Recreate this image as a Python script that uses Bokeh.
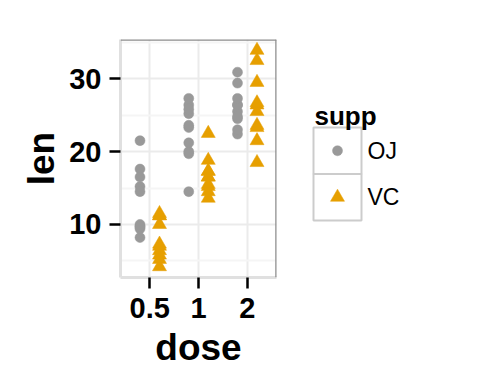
from bokeh.plotting import figure
from bokeh.layouts import row
from bokeh.models import Range1d, FixedTicker, ColumnDataSource, Span
from bokeh.core.properties import value
from bokeh.embed import file_html
from bokeh.resources import INLINE

# ---- data (ToothGrowth) ----
doses = ["0.5", "1", "2"]
supps = ["OJ", "VC"]
oj_05 = [15.2, 21.5, 17.6, 9.7, 14.5, 10.0, 8.2, 9.4, 16.5, 9.7]
oj_1 = [19.7, 23.3, 23.6, 26.4, 20.0, 25.2, 25.8, 21.2, 14.5, 27.3]
oj_2 = [25.5, 26.4, 22.4, 24.5, 24.8, 30.9, 26.4, 27.3, 29.4, 23.0]
vc_05 = [4.2, 11.5, 7.3, 5.8, 6.4, 10.0, 11.2, 11.2, 5.2, 7.0]
vc_1 = [16.5, 16.5, 15.2, 17.3, 22.5, 17.3, 13.6, 14.5, 18.8, 15.5]
vc_2 = [23.6, 18.5, 33.9, 25.5, 26.4, 32.5, 26.7, 21.5, 23.3, 29.5]
y_ticks = [10, 20, 30]

colors = {"OJ": "#999999", "VC": "#E69F00"}
markers = {"OJ": "circle", "VC": "triangle"}
sizes = {"OJ": 10, "VC": 14}
offsets = {"OJ": -0.2, "VC": 0.2}
series = {"OJ": [oj_05, oj_1, oj_2], "VC": [vc_05, vc_1, vc_2]}

FONT = "Liberation Sans"
TOP, BOTTOM = 39, 107  # frame borders (px)

p = figure(width=290, height=384, output_backend="svg", toolbar_location=None,
           x_range=Range1d(0.4, 3.6), y_range=Range1d(2.715, 35.385),
           min_border_left=120, min_border_right=14, min_border_top=TOP,
           min_border_bottom=BOTTOM)
p.background_fill_color = "white"
p.border_fill_color = "white"
p.outline_line_color = None

for s in supps:
    xs, ys = [], []
    for i, vals in enumerate(series[s]):
        xs += [i + 1 + offsets[s]] * len(vals)
        ys += vals
    src = ColumnDataSource(dict(x=xs, y=ys))
    p.scatter("x", "y", source=src, marker=markers[s], size=sizes[s],
              fill_color=colors[s], line_color=colors[s], line_width=0.5)

# panel border: dark top/right, light left/bottom (axis lines)
p.add_layout(Span(location=p.y_range.end, dimension="width",
                  line_color="#8c8c8c", line_width=2.5))
p.add_layout(Span(location=p.x_range.end, dimension="height",
                  line_color="#8c8c8c", line_width=2.5))

# axes
p.xaxis.ticker = FixedTicker(ticks=[1, 2, 3])
p.xaxis.major_label_overrides = {i + 1: d for i, d in enumerate(doses)}
p.yaxis.ticker = FixedTicker(ticks=y_ticks, minor_ticks=[5, 15, 25, 35])
p.xaxis.axis_label = "dose"
p.yaxis.axis_label = "len"
for ax in (p.xaxis, p.yaxis):
    ax.axis_label_text_font = FONT
    ax.axis_label_text_font_style = "bold"
    ax.axis_label_text_font_size = "37px"
    ax.axis_label_text_color = "black"
    ax.major_label_text_font = FONT
    ax.major_label_text_font_style = "bold"
    ax.major_label_text_font_size = "29px"
    ax.major_label_text_color = "black"
    ax.major_tick_line_color = "black"
    ax.major_tick_line_width = 2.5
    ax.major_tick_out = 11
    ax.major_tick_in = 0
    ax.minor_tick_line_color = None
    ax.axis_line_color = "#e0e0e0"
    ax.axis_line_width = 3
    ax.major_label_standoff = 9
    ax.axis_label_standoff = 6
p.yaxis.major_label_standoff = 8
p.yaxis.axis_label_standoff = 4

p.xgrid.grid_line_color = "#ebebeb"
p.xgrid.grid_line_width = 2
p.ygrid.grid_line_color = "#ebebeb"
p.ygrid.grid_line_width = 2
p.ygrid.minor_grid_line_color = "#f5f5f5"
p.ygrid.minor_grid_line_width = 2

# ---- legend panel (frame aligned with main frame; y in canvas pixels) ----
lg = figure(width=190, height=384, output_backend="svg", toolbar_location=None,
            x_range=Range1d(0, 190), y_range=Range1d(384 - BOTTOM, TOP),
            x_axis_location=None, y_axis_location=None, title=None,
            min_border_left=0, min_border_right=0,
            min_border_top=TOP, min_border_bottom=BOTTOM)
lg.grid.visible = False
lg.outline_line_color = None
lg.background_fill_color = "white"
lg.border_fill_color = "white"

key_top, key_h, key_left, key_w = 127, 46.5, 23, 48
tops = [key_top + key_h * i for i in range(len(supps))]
lg.quad(left=key_left, right=key_left + key_w, top=tops,
        bottom=[t + key_h for t in tops], fill_color="white",
        line_color="#cccccc", line_width=2)
lsrc = ColumnDataSource(dict(
    x=[key_left + key_w / 2] * len(supps),
    y=[t + key_h / 2 for t in tops],
    m=[markers[s] for s in supps],
    c=[colors[s] for s in supps],
    sz=[sizes[s] for s in supps],
    lab=supps,
    lx=[key_left + key_w + 6] * len(supps),
))
lg.scatter("x", "y", source=lsrc, marker="m", size="sz", fill_color="c",
           line_color="c", line_width=0.5)
lg.text("lx", "y", text="lab", source=lsrc, text_font=value(FONT),
        text_font_size="23px", text_baseline="middle", text_align="left",
        text_color="black")
lg.text(x=[24], y=[115], text=["supp"], text_font=value(FONT),
        text_font_style="bold", text_font_size="26px",
        text_baseline="alphabetic", text_align="left", text_color="black")

layout = row(p, lg)
open("out.html", "w").write(file_html(layout, INLINE))
